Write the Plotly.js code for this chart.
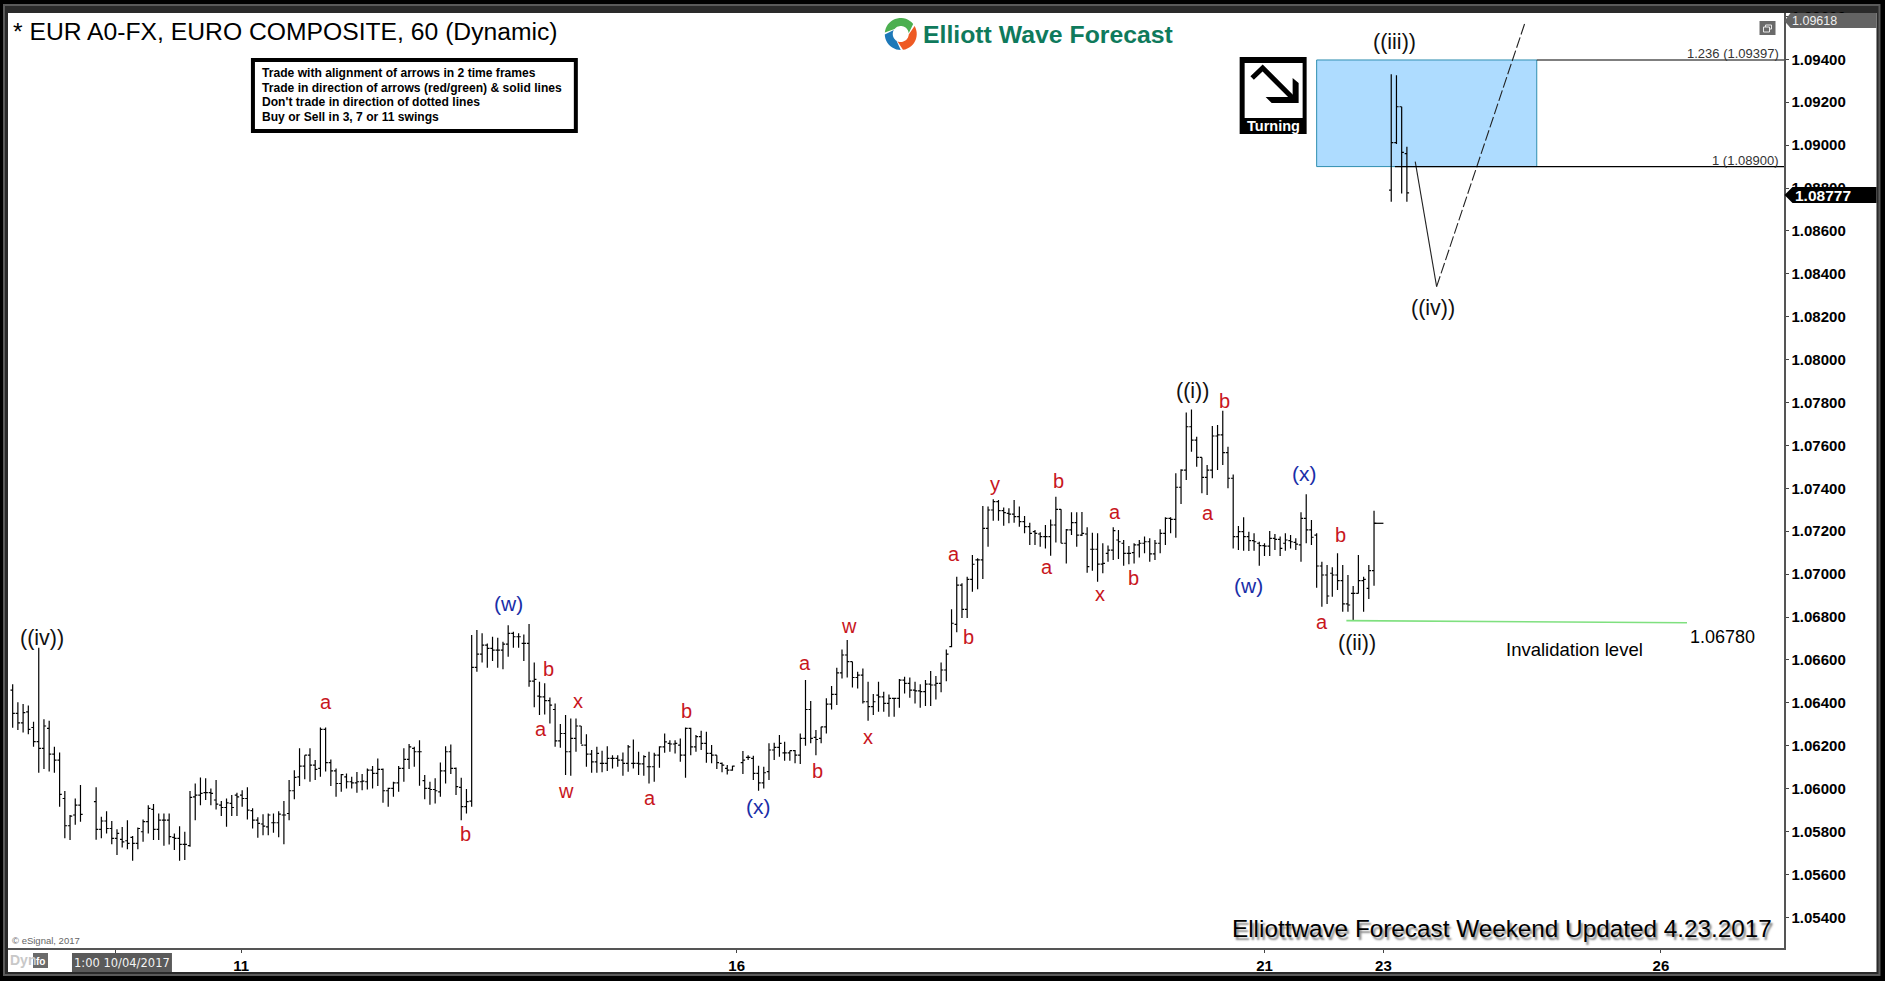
<!DOCTYPE html>
<html>
<head>
<meta charset="utf-8">
<script src="https://cdn.plot.ly/plotly-3.0.1.min.js"></script>
<style>html,body{margin:0;padding:0;background:#000;overflow:hidden}#chart{width:1885px;height:981px}</style>
</head>
<body>
<div id="chart"></div>
<script>
// Hourly bar numbers (bars 15-16 and 140 are blank in the source chart)
const barRuns = [[1,14],[17,139],[141,262]];
const barIndex = [];
barRuns.forEach(r => { for (let i = r[0]; i <= r[1]; i++) barIndex.push(i); });

const barHigh = [
1.06487,1.06403,1.06394,1.06388,1.06312,1.06657,1.06323,1.06316,1.06195,1.06169,1.05989,1.05877,1.05954,1.06017,
1.06007,1.05869,1.05895,1.05849,1.05811,1.05821,1.05853,1.05779,1.05819,1.05856,1.05922,1.05928,1.05884,1.05884,1.05884,1.05791,1.05825,1.05799,
1.05989,1.06024,1.06052,1.06048,1.06001,1.06040,1.05942,1.05954,1.05970,1.05981,1.05993,1.06006,1.05908,1.05866,1.05881,1.05884,1.05884,1.05894,1.05942,
1.06040,1.06086,1.06188,1.06156,1.06188,1.06133,1.06285,1.06285,1.06136,1.06094,1.06068,1.06071,1.06055,1.06077,1.06068,1.06094,1.06105,1.06141,1.06094,
1.06004,1.06032,1.06105,1.06188,1.06208,1.06195,1.06226,1.06063,1.06032,1.06048,1.06122,1.06198,1.06206,1.06099,1.06051,1.05998,1.06716,
1.06739,1.06724,1.06677,1.06708,1.06703,1.06685,1.06762,1.06731,1.06724,1.06719,1.06767,1.06588,1.06498,1.06491,1.06425,1.06397,1.06301,1.06343,1.06327,1.06327,
1.06292,1.06254,1.06180,1.06195,1.06177,1.06198,1.06156,1.06156,1.06169,1.06203,1.06229,1.06172,1.06156,1.06172,1.06167,1.06198,1.06257,1.06226,1.06226,1.06234,
1.06285,1.06284,1.06250,1.06270,1.06265,1.06203,1.06156,1.06122,1.06110,1.06107,
1.06175,1.06156,1.06153,1.06107,1.06102,1.06211,1.06214,1.06250,1.06219,1.06177,1.06180,1.06257,1.06506,1.06408,1.06273,1.06288,1.06421,1.06478,1.06564,1.06649,
1.06693,1.06592,1.06545,1.06560,1.06498,1.06441,1.06498,1.06452,1.06439,1.06424,1.06511,1.06522,1.06518,1.06498,1.06487,1.06506,1.06548,1.06525,1.06588,1.06649,
1.06836,1.06988,1.06957,1.06988,1.07089,1.07074,1.07318,1.07315,1.07349,1.07346,1.07311,1.07307,1.07346,1.07315,1.07271,1.07240,1.07206,1.07195,1.07229,1.07255,
1.07361,1.07302,1.07210,1.07288,1.07288,1.07290,1.07218,1.07193,1.07190,1.07144,1.07133,1.07218,1.07206,1.07159,1.07131,1.07144,1.07159,1.07175,1.07167,1.07159,
1.07209,1.07265,1.07265,1.07470,1.07489,1.07754,1.07768,1.07641,1.07544,1.07509,1.07691,1.07695,1.07762,1.07594,1.07465,1.07224,1.07265,1.07198,1.07190,1.07151,
1.07144,1.07201,1.07187,1.07175,1.07190,1.07182,1.07167,1.07288,1.07372,1.07252,1.07190,1.07058,1.07043,1.07032,1.07097,1.07043,1.06996,1.06945,1.07089,1.06988,1.07043,1.07296
];
const barLow = [
1.06284,1.06273,1.06262,1.06254,1.06195,1.06074,1.06091,1.06080,1.06074,1.05916,1.05769,1.05760,1.05832,1.05846,
1.05762,1.05769,1.05791,1.05741,1.05690,1.05726,1.05717,1.05664,1.05717,1.05752,1.05791,1.05760,1.05760,1.05734,1.05740,1.05714,1.05664,1.05667,
1.05729,1.05853,1.05923,1.05947,1.05923,1.05903,1.05872,1.05822,1.05872,1.05872,1.05916,1.05856,1.05814,1.05771,1.05783,1.05783,1.05794,1.05773,1.05741,
1.05853,1.05951,1.06012,1.06044,1.06032,1.06040,1.06055,1.06080,1.06012,1.05962,1.05985,1.06001,1.06001,1.05981,1.05993,1.05996,1.06001,1.06012,1.05934,
1.05916,1.05962,1.05985,1.06032,1.06091,1.06102,1.06013,1.05951,1.05925,1.05931,1.05962,1.06024,1.06068,1.05970,1.05853,1.05884,1.05916,
1.06545,1.06588,1.06564,1.06595,1.06564,1.06556,1.06615,1.06657,1.06657,1.06595,1.06475,1.06379,1.06343,1.06346,1.06304,1.06195,1.06191,1.06063,1.06060,1.06172,
1.06208,1.06102,1.06074,1.06074,1.06076,1.06082,1.06094,1.06102,1.06060,1.06079,1.06094,1.06063,1.06060,1.06024,1.06032,1.06097,1.06167,1.06172,1.06164,1.06125,
1.06051,1.06156,1.06172,1.06180,1.06121,1.06118,1.06091,1.06076,1.06066,1.06083,
1.06068,1.06133,1.06040,1.05990,1.06001,1.06040,1.06133,1.06149,1.06130,1.06130,1.06118,1.06115,1.06200,1.06211,1.06156,1.06211,1.06257,1.06369,1.06390,1.06514,
1.06518,1.06472,1.06467,1.06397,1.06316,1.06343,1.06358,1.06358,1.06335,1.06335,1.06377,1.06444,1.06424,1.06397,1.06377,1.06385,1.06385,1.06416,1.06449,1.06501,
1.06659,1.06729,1.06795,1.06795,1.06918,1.06929,1.06977,1.07128,1.07249,1.07249,1.07226,1.07237,1.07240,1.07221,1.07190,1.07136,1.07136,1.07128,1.07120,1.07086,
1.07147,1.07144,1.07050,1.07182,1.07128,1.07178,1.07007,1.07016,1.06965,1.07004,1.07058,1.07066,1.07071,1.07039,1.07046,1.07050,1.07078,1.07097,1.07058,1.07066,
1.07097,1.07136,1.07190,1.07170,1.07327,1.07439,1.07571,1.07501,1.07377,1.07369,1.07447,1.07485,1.07509,1.07400,1.07120,1.07112,1.07109,1.07108,1.07109,1.07039,
1.07084,1.07084,1.07112,1.07084,1.07109,1.07120,1.07112,1.07058,1.07144,1.07136,1.06937,1.06848,1.06861,1.06895,1.06926,1.06825,1.06825,1.06786,1.06910,1.06825,1.06884,1.06946
];
const barOpen = [
1.06459,1.06351,1.06307,1.06358,1.06285,1.06219,1.06188,1.06281,1.06161,1.06133,1.05954,1.05827,1.05877,1.05923,
1.05939,1.05810,1.05849,1.05814,1.05768,1.05763,1.05757,1.05773,1.05745,1.05799,1.05846,1.05903,1.05810,1.05853,1.05853,1.05773,1.05768,1.05740,
1.05734,1.05962,1.05970,1.05981,1.05981,1.05947,1.05923,1.05912,1.05931,1.05970,1.05970,1.05954,1.05897,1.05853,1.05835,1.05822,1.05841,1.05841,1.05877,
1.05884,1.05990,1.06055,1.06105,1.06156,1.06110,1.06094,1.06276,1.06121,1.06083,1.06024,1.06055,1.06032,1.06027,1.06032,1.06032,1.06086,1.06071,1.06090,
1.05990,1.06001,1.06027,1.06094,1.06136,1.06188,1.06172,1.06037,1.06001,1.05996,1.05985,1.06083,1.06172,1.06094,1.06006,1.05916,1.05942,
1.06565,1.06627,1.06669,1.06654,1.06646,1.06646,1.06674,1.06724,1.06708,1.06677,1.06677,1.06501,1.06431,1.06428,1.06410,1.06369,1.06223,1.06257,1.06172,1.06234,
1.06292,1.06203,1.06161,1.06125,1.06118,1.06118,1.06141,1.06141,1.06133,1.06118,1.06118,1.06118,1.06115,1.06102,1.06102,1.06156,1.06195,1.06211,1.06208,1.06203,
1.06156,1.06281,1.06195,1.06242,1.06211,1.06164,1.06156,1.06118,1.06094,1.06086,
1.06121,1.06146,1.06141,1.06071,1.06027,1.06079,1.06180,1.06192,1.06167,1.06167,1.06177,1.06156,1.06234,1.06369,1.06239,1.06234,1.06288,1.06394,1.06439,1.06540,
1.06623,1.06592,1.06518,1.06529,1.06405,1.06382,1.06436,1.06428,1.06397,1.06421,1.06421,1.06506,1.06491,1.06459,1.06456,1.06452,1.06487,1.06483,1.06491,1.06553,
1.06662,1.06766,1.06949,1.06836,1.06976,1.07066,1.07066,1.07213,1.07299,1.07338,1.07296,1.07283,1.07280,1.07268,1.07245,1.07221,1.07198,1.07187,1.07175,1.07175,
1.07229,1.07302,1.07144,1.07206,1.07240,1.07182,1.07187,1.07116,1.07116,1.07047,1.07097,1.07112,1.07159,1.07144,1.07097,1.07100,1.07136,1.07144,1.07151,1.07094,
1.07144,1.07190,1.07260,1.07255,1.07405,1.07485,1.07687,1.07625,1.07544,1.07451,1.07485,1.07644,1.07649,1.07566,1.07447,1.07175,1.07198,1.07175,1.07156,1.07144,
1.07133,1.07131,1.07167,1.07162,1.07144,1.07156,1.07148,1.07136,1.07260,1.07206,1.07182,1.07038,1.06996,1.07004,1.06996,1.06970,1.06861,1.06910,1.06910,1.06970,1.06934,1.07016
];
const barClose = [
1.06351,1.06307,1.06354,1.06276,1.06219,1.06188,1.06292,1.06161,1.06133,1.05973,1.05827,1.05872,1.05923,1.05880,
1.05810,1.05849,1.05814,1.05768,1.05791,1.05752,1.05745,1.05745,1.05814,1.05846,1.05908,1.05810,1.05853,1.05853,1.05776,1.05768,1.05740,1.05740,
1.05959,1.05970,1.05978,1.05981,1.05978,1.05928,1.05912,1.05934,1.05912,1.05962,1.05954,1.05900,1.05853,1.05838,1.05825,1.05877,1.05841,1.05881,1.05877,
1.05990,1.06052,1.06105,1.06156,1.06110,1.06090,1.06276,1.06121,1.06083,1.06024,1.06065,1.06032,1.06027,1.06032,1.06035,1.06086,1.06071,1.06090,1.05990,
1.06001,1.06027,1.06094,1.06136,1.06195,1.06172,1.06172,1.06001,1.05996,1.05990,1.06083,1.06172,1.06094,1.06009,1.05916,1.05939,1.06565,
1.06627,1.06669,1.06654,1.06646,1.06646,1.06674,1.06724,1.06708,1.06708,1.06677,1.06501,1.06509,1.06428,1.06410,1.06389,1.06223,1.06257,1.06172,1.06234,1.06292,
1.06203,1.06161,1.06125,1.06164,1.06118,1.06141,1.06141,1.06133,1.06118,1.06195,1.06118,1.06115,1.06149,1.06102,1.06156,1.06195,1.06218,1.06208,1.06211,1.06156,
1.06281,1.06195,1.06242,1.06211,1.06164,1.06156,1.06121,1.06110,1.06086,1.06105,
1.06133,1.06146,1.06071,1.06027,1.06074,1.06180,1.06192,1.06211,1.06167,1.06177,1.06156,1.06234,1.06369,1.06234,1.06229,1.06288,1.06394,1.06439,1.06540,1.06623,
1.06592,1.06518,1.06529,1.06405,1.06382,1.06405,1.06428,1.06397,1.06421,1.06421,1.06506,1.06491,1.06459,1.06456,1.06452,1.06487,1.06483,1.06491,1.06553,1.06627,
1.06771,1.06949,1.06836,1.06976,1.07046,1.07066,1.07213,1.07299,1.07338,1.07296,1.07287,1.07280,1.07268,1.07245,1.07221,1.07190,1.07190,1.07175,1.07175,1.07229,
1.07302,1.07144,1.07206,1.07240,1.07182,1.07190,1.07035,1.07116,1.07047,1.07050,1.07112,1.07203,1.07151,1.07097,1.07097,1.07136,1.07144,1.07151,1.07094,1.07144,
1.07190,1.07260,1.07255,1.07405,1.07485,1.07687,1.07625,1.07544,1.07451,1.07485,1.07644,1.07649,1.07566,1.07447,1.07175,1.07198,1.07175,1.07156,1.07151,1.07133,
1.07131,1.07167,1.07162,1.07120,1.07159,1.07151,1.07140,1.07260,1.07206,1.07172,1.07038,1.06996,1.06898,1.06996,1.06970,1.06861,1.06856,1.06910,1.06970,1.06976,1.07016,1.07237
];

// Projected ((iii)) bars
const projIndex = [265.3,266.3,267.3,268.3];
const projHigh  = [1.09331,1.09326,1.09179,1.08992];
const projLow   = [1.08736,1.09005,1.08775,1.08736];
const projOpen  = [1.08790,1.09012,1.09179,1.08960];
const projClose = [1.09012,1.09179,1.08966,1.08777];

// Wave path
const solidLegX = [269.9,274.0];
const solidLegY = [1.08923,1.08340];
const dashLegX  = [274.0,291.0];
const dashLegY  = [1.08340,1.09575];

// Long close marker on the last live bar
const lastCloseX = [262,263.8];
const lastCloseY = [1.07237,1.07237];

// Fibonacci box and invalidation level
const fibUpper = 1.09397, fibLower = 1.08900;
const boxStart = 251, boxEnd = 293.2, fibLowerStart = 266;
const invalidX = [256.7,322], invalidY = [1.06783,1.06773];

// Wave labels
const redText = ['a','b','b','a','x','w','a','b','b','a','w','x','a','b','y','a','b','x','a','b','a','b','a','b'];
const redX = [61,87.75,103.65,102.27,109.41,107.11,123.24,130.15,155.27,152.97,161.26,164.95,181.55,184.31,189.38,199.29,201.59,209.43,212.42,215.88,230.17,233.39,252.06,255.51];
const redY = [1.06403,1.05787,1.0656,1.0628,1.06409,1.05989,1.05955,1.06364,1.06084,1.06588,1.06757,1.06241,1.07093,1.06706,1.07418,1.07031,1.07435,1.06908,1.07289,1.06981,1.07283,1.07805,1.06779,1.07182];
const blueText = ['(w)','(x)','(w)','(x)'];
const blueX = [96.05,143.98,238,248.6];
const blueY = [1.06863,1.05916,1.06947,1.07468];
const blackText = ['((iv))','((i))','((ii))','((iii))','((iv))'];
const blackX = [6.64,227.17,258.74,265.88,273.26];
const blackY = [1.067,1.07855,1.06678,1.0948,1.08242];

const xTickVals = [20.8,44.8,139.8,241,263.8,317];
const xTickText = ['','11','16','21','23','26'];
const rulesText = ["Trade with alignment of arrows in 2 time frames","Trade in direction of arrows (red/green) & solid lines","Don't trade in direction of dotted lines","Buy or Sell in 3, 7 or 11 swings"];

if ([barLow,barOpen,barClose,barIndex].some(a => a.length !== barHigh.length))
  throw new Error('length mismatch '+[barHigh.length,barLow.length,barOpen.length,barClose.length,barIndex.length]);

// Layout geometry (page pixels)
const W=1885,H=981,L=8,R=1784.5,T=13,B=948;
const px = x => (x-L)/(R-L), py = y => (B-y)/(B-T);
const FONT='"Liberation Sans", Arial, sans-serif';
const pathPx = pts => pts.map((p,i)=>(i?'L':'M')+px(p[0])+','+py(p[1])).join(' ')+' Z';

const pxRect=(x0,y0,x1,y1,fill,line,layer,lw)=>({type:'rect',xref:'paper',yref:'paper',x0:px(x0),x1:px(x1),y0:py(y0),y1:py(y1),fillcolor:fill,line:{color:line||fill,width:lw===undefined?0:lw},layer:layer||'above'});
const pxPath=(pts,fill,layer)=>({type:'path',xref:'paper',yref:'paper',path:pathPx(pts),fillcolor:fill,line:{width:0},layer:layer||'above'});

// Logo swirl segment
const swirl=(a0,a1,fill)=>{
  const cx=901,cy=34,ro=16,ri=8,tw=30,pts=[];
  for(let a=a0;a<=a1;a+=8){const r=a*Math.PI/180;pts.push([cx+ro*Math.cos(r),cy+ro*Math.sin(r)]);}
  for(let a=a1;a>=a0;a-=8){const r=(a+tw)*Math.PI/180;pts.push([cx+ri*Math.cos(r),cy+ri*Math.sin(r)]);}
  return pxPath(pts,fill);
};

const shapes=[
  // outer frame
  pxRect(4,5,1880,975,'#2a2a2a','#5a5a5a','below',2),
  pxRect(8,13,1877,972,'#ffffff',null,'below'),
  // fib box and levels
  {type:'rect',xref:'x',yref:'y',x0:boxStart,x1:boxEnd,y0:fibLower,y1:fibUpper,fillcolor:'#aedcff',line:{color:'#2f8fb0',width:1},layer:'below'},
  {type:'line',xref:'x',yref:'y',x0:boxEnd,x1:341,y0:fibUpper,y1:fibUpper,line:{color:'#000',width:1.2}},
  {type:'line',xref:'x',yref:'y',x0:fibLowerStart,x1:341,y0:fibLower,y1:fibLower,line:{color:'#000',width:1.2}},
  // rules box
  pxRect(253,60,576,131,'#ffffff','#000000','above',4),
  // Turning icon
  pxRect(1240,57,1307,134,'#000000'),
  pxRect(1245,63,1303,118,'#ffffff'),
  {type:'path',xref:'paper',yref:'paper',path:'M'+px(1252.5)+','+py(78)+' L'+px(1263)+','+py(68)+' L'+px(1293)+','+py(98),line:{color:'#000',width:5},layer:'above'},
  pxPath([[1293,78],[1299,83],[1299,103],[1272,103],[1266,97],[1293,97]],'#000000'),
  // logo globe
  swirl(-175,-35,'#4caf50'),
  swirl(-30,85,'#ee5a24'),
  swirl(90,180,'#1d78b8'),
  // window icon
  pxRect(1760,21,1776,35,'#6a6a6a'),
  pxRect(1766,25,1772,29,'rgba(0,0,0,0)','#e8e8e8','above',1),
  pxRect(1764,27,1770,32,'#6a6a6a','#e8e8e8','above',1),
  // price tags
  pxPath([[1785,21],[1791,13],[1877,13],[1877,28],[1791,28]],'#636363'),
  pxPath([[1785,195],[1793,187],[1877,187],[1877,203],[1793,203]],'#000000'),
  // date tag and lock
  pxRect(72,953,172,972,'#5a5a5a'),
  pxRect(33,953,48,968,'#6a6a6a')
];

const annotations=[
  tx('* EUR A0-FX, EURO COMPOSITE, 60 (Dynamic)',11,31,24.7,'#000'),
  bold('Elliott Wave Forecast',921,34,24.8,'#0f7a5c'),
  bold('Turning',1273.5,126,14.5,'#fff',{xanchor:'center'}),
  tx('1.236 (1.09397)',1781,54,13,'#333',{xanchor:'right'}),
  tx('1 (1.08900)',1781,160,13,'#333',{xanchor:'right'}),
  tx('1.09618',1791,21,12.5,'#f0f0f0'),
  bold('1.08777',1794,195,15.5,'#fff'),
  tx('1:00 10/04/2017',122,962.5,13,'#f4f4f4',{xanchor:'center',font:{family:'"DejaVu Sans", sans-serif',size:11.5,color:'#f4f4f4'}}),
  tx('© eSignal, 2017',10,940,9.5,'#666'),
  bold('Dyn',8,960,14,'#c8c8c8'),
  bold('fo',40.5,961,10,'#fff',{xanchor:'center'}),
  tx('Elliottwave Forecast Weekend Updated 4.23.2017',1230,928,24.3,'#000',{font:{family:FONT,size:24.3,color:'#000',shadow:'2px 3px 2px #888'}}),
  {xref:'x',yref:'y',x:300.44,y:1.0665,text:'Invalidation level',showarrow:false,font:{family:FONT,size:18.5,color:'#000'}},
  {xref:'x',yref:'y',x:328.79,y:1.06706,text:'1.06780',showarrow:false,font:{family:FONT,size:18,color:'#000'}}
];
function tx(text,x,y,size,color,extra){return Object.assign({xref:'paper',yref:'paper',x:px(x),y:py(y),text:text,showarrow:false,xanchor:'left',yanchor:'middle',font:{family:FONT,size:size,color:color}},extra||{});}
function bold(text,x,y,size,color,extra){return Object.assign(tx(text,x,y,size,color),{font:{family:FONT,size:size,color:color,weight:700}},extra||{});}
rulesText.forEach((t,i)=>annotations.push(bold(t,260,73+i*14.6,12.1,'#000')));
const addLabels=(texts,xs,ys,color,size)=>texts.forEach((t,i)=>annotations.push({xref:'x',yref:'y',x:xs[i],y:ys[i],text:t,showarrow:false,font:{family:FONT,size:size,color:color}}));
addLabels(redText,redX,redY,'#c8161d',20);
addLabels(blueText,blueX,blueY,'#1a2ea8',21);
addLabels(blackText,blackX,blackY,'#111',21.5);

const barTrace=(x,o,h,l,c)=>({type:'ohlc',x:x,open:o,high:h,low:l,close:c,tickwidth:0.42,line:{width:1.2},increasing:{line:{color:'#000',width:1.2}},decreasing:{line:{color:'#000',width:1.2}},hoverinfo:'skip',showlegend:false});
const data=[
  barTrace(barIndex,barOpen,barHigh,barLow,barClose),
  barTrace(projIndex,projOpen,projHigh,projLow,projClose),
  {type:'scatter',mode:'lines',x:lastCloseX,y:lastCloseY,line:{color:'#000',width:1.2},hoverinfo:'skip',showlegend:false},
  {type:'scatter',mode:'lines',x:solidLegX,y:solidLegY,line:{color:'#222',width:1.1},hoverinfo:'skip',showlegend:false},
  {type:'scatter',mode:'lines',x:dashLegX,y:dashLegY,line:{color:'#222',width:1.1,dash:'11px,3px'},hoverinfo:'skip',showlegend:false},
  {type:'scatter',mode:'lines',x:invalidX,y:invalidY,line:{color:'#7fe07f',width:1.6},hoverinfo:'skip',showlegend:false}
];

const layout={
  width:W,height:H,
  margin:{l:L,r:W-R,t:T,b:H-B,pad:0},
  paper_bgcolor:'#000000',plot_bgcolor:'rgba(0,0,0,0)',
  showlegend:false,
  xaxis:{type:'linear',range:[0.105,340.6],rangeslider:{visible:false},showgrid:false,zeroline:false,
    tickmode:'array',tickvals:xTickVals,ticktext:xTickText,ticks:'outside',ticklen:3,tickcolor:'#444',tickwidth:1,
    showline:true,linecolor:'#555',linewidth:1.5,tickfont:{family:FONT,size:15,color:'#000',weight:700},fixedrange:true},
  yaxis:{side:'right',type:'linear',range:[1.05257,1.09616],showgrid:false,zeroline:false,
    tick0:1.054,dtick:0.002,tickformat:'.5f',ticks:'outside',ticklen:3,tickcolor:'#444',tickwidth:1,
    showline:true,linecolor:'#555',linewidth:1.5,tickfont:{family:FONT,size:15,color:'#000',weight:700},fixedrange:true},
  shapes:shapes,annotations:annotations
};
Plotly.newPlot('chart',data,layout,{displayModeBar:false,staticPlot:true});
</script>
</body>
</html>
